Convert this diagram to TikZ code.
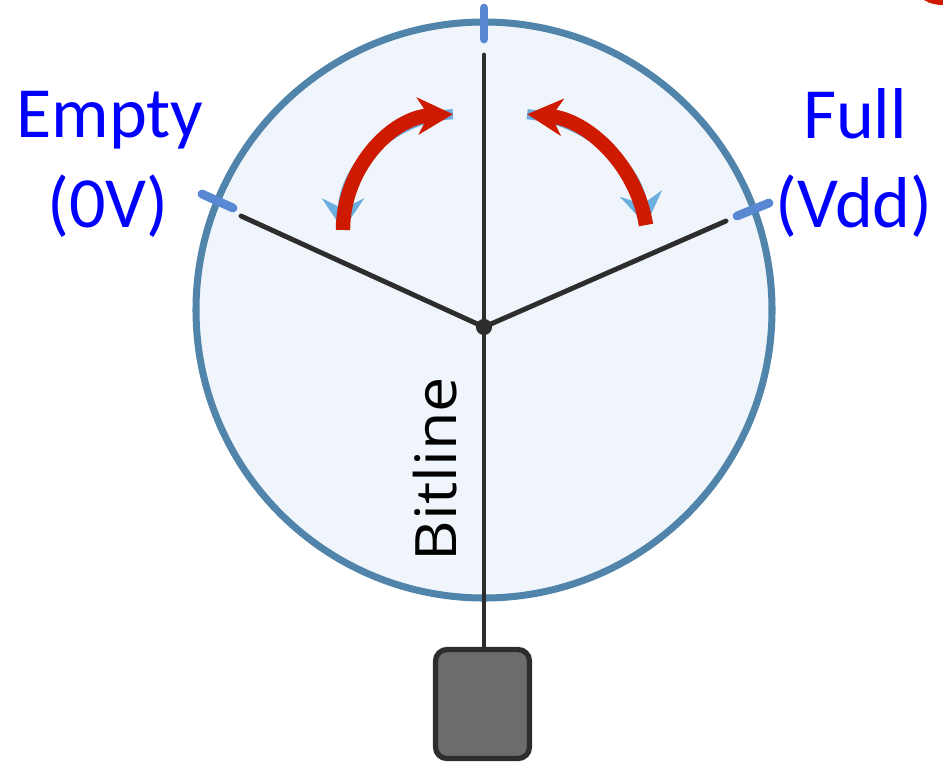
\documentclass[tikz,border=0pt]{standalone}
\usepackage{fontspec}
\setmainfont{Carlito}
\newfontfamily\bitfont[FakeStretch=1.1]{Open Sans}
\usepackage{xcolor}
\usetikzlibrary{arrows.meta}
\definecolor{rim}{RGB}{80,132,170}
\definecolor{disc}{RGB}{239,245,250}
\definecolor{tick}{RGB}{88,136,210}
\definecolor{wire}{RGB}{45,45,45}
\definecolor{swing}{RGB}{206,26,0}
\definecolor{back}{RGB}{108,174,224}
\definecolor{label}{RGB}{0,0,255}
\definecolor{cap}{RGB}{108,108,108}

\begin{document}
\begin{tikzpicture}[x=0.02cm,y=-0.02cm,
  spoke/.style={draw=wire,line width=2.8pt,line cap=round},
  ticks/.style={draw=tick,line width=5pt,line cap=round},
  lbl/.style={text=label,font=\fontsize{41}{49}\selectfont,anchor=base,inner sep=0pt}]
\useasboundingbox (0,0) rectangle (943,762);
\fill[swing](924,0) .. controls (930,4) and (937,5) .. (943,5)--(943,0)--cycle;
\draw[rim,fill=disc,line width=4pt](484,310) circle[radius=288];
\coordinate (hub) at (484,327);
\coordinate (up) at (484,55);
\coordinate (lft) at (241,216);
\coordinate (rgt) at (726,221);
\node[draw=wire,fill=cap,line width=3pt,rounded corners=6.5pt,inner sep=0pt,
  minimum width=1.88cm,minimum height=2.18cm] (box) at (482.5,704) {};
\draw[ticks](484,8)--(484,39);
\draw[ticks](202,194)--(233,208);
\draw[ticks](737,216)--(769,203);
\draw[spoke](hub)--(up);
\draw[spoke](hub)--(lft);
\draw[spoke](hub)--(rgt);
\draw[spoke,line cap=butt](hub)--(hub|-box.north);
\fill[wire](hub) circle[radius=4.6pt];
\draw[back,line width=5.8pt,{Stealth[length=18pt,width=24pt,inset=6pt]}-](343,230)arc[start angle=180,end angle=93,radius=2.32cm];
\draw[swing,line width=8.2pt,-{Stealth[length=20pt,width=21pt,inset=6pt]}](343,230)arc[start angle=180,end angle=93,radius=2.32cm];
\draw[back,line width=5.8pt,{Stealth[length=18pt,width=24pt,inset=6pt]}-](646,225)arc[start angle=9,end angle=85,radius=2.64cm];
\draw[swing,line width=8.2pt,-{Stealth[length=20pt,width=21pt,inset=6pt]}](646,225)arc[start angle=9,end angle=85,radius=2.64cm];
\node[lbl] (empty) at (110,137) {Empty};
\node[lbl] (zero) at (108,227) {(0V)};
\node[lbl] (full) at (855,138) {Full};
\node[lbl] (vdd) at (854,227) {(Vdd)};
\node[rotate=90,anchor=base,inner sep=0pt,font=\bitfont\fontsize{32.5}{39}\selectfont] (bit) at (456,469) {Bitline};
\end{tikzpicture}
\end{document}
